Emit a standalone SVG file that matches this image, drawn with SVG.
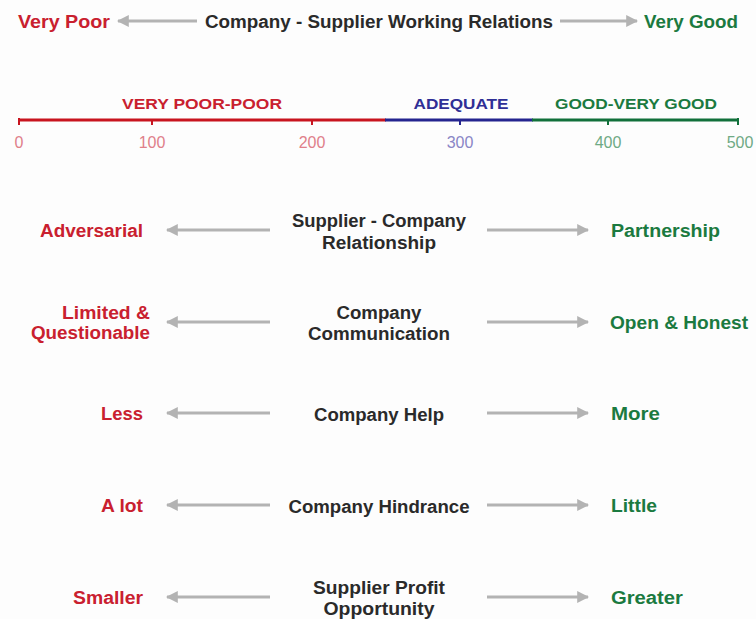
<svg xmlns="http://www.w3.org/2000/svg" width="756" height="619" viewBox="0 0 756 619">
<defs>
<marker id="ah" viewBox="0 0 10 10" refX="9" refY="5" markerWidth="4" markerHeight="4" orient="auto-start-reverse" markerUnits="strokeWidth">
<path d="M0,0 L10,5 L0,10 z" fill="#b3b3b3"/>
</marker>
<style>
text{font-family:"Liberation Sans",Arial,sans-serif;font-weight:bold;font-size:18px}
.r{fill:#c9202f}.g{fill:#1b7a40}.k{fill:#2a2a2a}.b{fill:#2f2f96}
.sc{font-size:15.5px}
.n{font-weight:normal;font-size:16px}
.nr{fill:#e0808a}.nb{fill:#8a86c6}.ng{fill:#6faa85}
.ar{stroke:#b3b3b3;stroke-width:3;fill:none;marker-end:url(#ah)}
</style>
</defs>
<rect width="756" height="619" fill="#fdfdfd"/>

<g id="title">
<text class="r" x="18" y="28" textLength="92" lengthAdjust="spacingAndGlyphs">Very Poor</text>
<text class="k" x="379" y="28" text-anchor="middle" textLength="348" lengthAdjust="spacingAndGlyphs">Company - Supplier Working Relations</text>
<text class="g" x="644" y="28" textLength="94" lengthAdjust="spacingAndGlyphs">Very Good</text>
</g>

<g id="scale">
<line x1="19" y1="120" x2="386" y2="120" stroke="#c8141f" stroke-width="3"/>
<line x1="385" y1="120" x2="533" y2="120" stroke="#24248f" stroke-width="3"/>
<line x1="532" y1="120" x2="738" y2="120" stroke="#11703a" stroke-width="3"/>
<line x1="19" y1="118" x2="19" y2="125" stroke="#c8141f" stroke-width="2"/>
<line x1="152" y1="120" x2="152" y2="125" stroke="#c8141f" stroke-width="2"/>
<line x1="312" y1="120" x2="312" y2="125" stroke="#c8141f" stroke-width="2"/>
<line x1="460" y1="120" x2="460" y2="125" stroke="#24248f" stroke-width="2"/>
<line x1="608" y1="120" x2="608" y2="125" stroke="#11703a" stroke-width="2"/>
<line x1="738" y1="118" x2="738" y2="125" stroke="#11703a" stroke-width="2"/>
<text class="r sc" x="202" y="109" text-anchor="middle" textLength="160" lengthAdjust="spacingAndGlyphs">VERY POOR-POOR</text>
<text class="b sc" x="461" y="109" text-anchor="middle" textLength="95" lengthAdjust="spacingAndGlyphs">ADEQUATE</text>
<text class="g sc" x="636" y="109" text-anchor="middle" textLength="162" lengthAdjust="spacingAndGlyphs">GOOD-VERY GOOD</text>
<text class="n nr" x="19" y="148" text-anchor="middle">0</text>
<text class="n nr" x="152" y="148" text-anchor="middle">100</text>
<text class="n nr" x="312" y="148" text-anchor="middle">200</text>
<text class="n nb" x="460" y="148" text-anchor="middle">300</text>
<text class="n ng" x="608" y="148" text-anchor="middle">400</text>
<text class="n ng" x="740" y="148" text-anchor="middle">500</text>
</g>

<g id="row1">
<text class="r" x="143" y="237" text-anchor="end" textLength="103" lengthAdjust="spacingAndGlyphs">Adversarial</text>
<text class="k" x="379" y="227" text-anchor="middle" textLength="174" lengthAdjust="spacingAndGlyphs">Supplier - Company</text>
<text class="k" x="379" y="249" text-anchor="middle" textLength="114" lengthAdjust="spacingAndGlyphs">Relationship</text>
<text class="g" x="611" y="237" textLength="109" lengthAdjust="spacingAndGlyphs">Partnership</text>
</g>

<g id="row2">
<text class="r" x="150" y="319" text-anchor="end" textLength="88" lengthAdjust="spacingAndGlyphs">Limited &amp;</text>
<text class="r" x="150" y="339" text-anchor="end" textLength="119" lengthAdjust="spacingAndGlyphs">Questionable</text>
<text class="k" x="379" y="319" text-anchor="middle" textLength="85" lengthAdjust="spacingAndGlyphs">Company</text>
<text class="k" x="379" y="340" text-anchor="middle" textLength="142" lengthAdjust="spacingAndGlyphs">Communication</text>
<text class="g" x="610" y="329" textLength="138" lengthAdjust="spacingAndGlyphs">Open &amp; Honest</text>
</g>

<g id="row3">
<text class="r" x="143" y="420" text-anchor="end" textLength="42" lengthAdjust="spacingAndGlyphs">Less</text>
<text class="k" x="379" y="421" text-anchor="middle" textLength="130" lengthAdjust="spacingAndGlyphs">Company Help</text>
<text class="g" x="611" y="420" textLength="49" lengthAdjust="spacingAndGlyphs">More</text>
</g>

<g id="row4">
<text class="r" x="143" y="512" text-anchor="end" textLength="42" lengthAdjust="spacingAndGlyphs">A lot</text>
<text class="k" x="379" y="513" text-anchor="middle" textLength="181" lengthAdjust="spacingAndGlyphs">Company Hindrance</text>
<text class="g" x="611" y="512" textLength="46" lengthAdjust="spacingAndGlyphs">Little</text>
</g>

<g id="row5">
<text class="r" x="143" y="604" text-anchor="end" textLength="70" lengthAdjust="spacingAndGlyphs">Smaller</text>
<text class="k" x="379" y="594" text-anchor="middle" textLength="132" lengthAdjust="spacingAndGlyphs">Supplier Profit</text>
<text class="k" x="379" y="615" text-anchor="middle" textLength="111" lengthAdjust="spacingAndGlyphs">Opportunity</text>
<text class="g" x="611" y="604" textLength="72" lengthAdjust="spacingAndGlyphs">Greater</text>
</g>

<g id="connectors">
<line class="ar" x1="197" y1="21" x2="118" y2="21"/>
<line class="ar" x1="560" y1="21" x2="637" y2="21"/>
<line class="ar" x1="270" y1="230" x2="167" y2="230"/>
<line class="ar" x1="487" y1="230" x2="588" y2="230"/>
<line class="ar" x1="270" y1="322" x2="167" y2="322"/>
<line class="ar" x1="487" y1="322" x2="588" y2="322"/>
<line class="ar" x1="270" y1="413" x2="167" y2="413"/>
<line class="ar" x1="487" y1="413" x2="588" y2="413"/>
<line class="ar" x1="270" y1="505" x2="167" y2="505"/>
<line class="ar" x1="487" y1="505" x2="588" y2="505"/>
<line class="ar" x1="270" y1="597" x2="167" y2="597"/>
<line class="ar" x1="487" y1="597" x2="588" y2="597"/>
</g>
</svg>
